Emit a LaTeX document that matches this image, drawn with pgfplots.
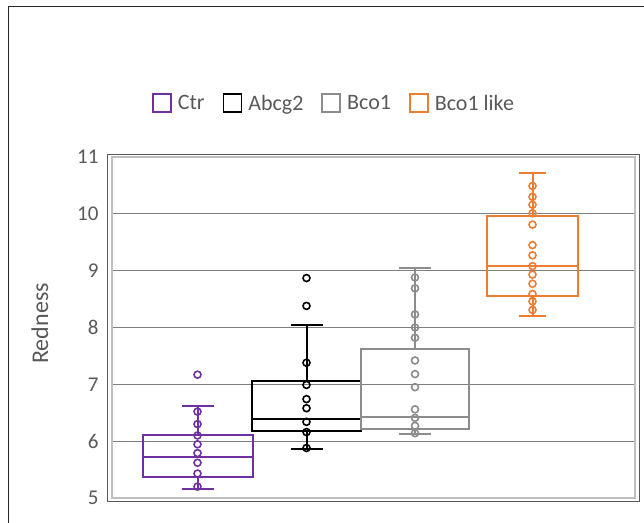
\documentclass[border=0pt]{standalone}
\usepackage{pgfplots}
\pgfplotsset{compat=1.18}
\usepgfplotslibrary{statistics}
\usepackage{fontspec}
\setmainfont{Carlito}
\definecolor{ctrcol}{HTML}{7030A0}
\definecolor{abccol}{HTML}{000000}
\definecolor{bcocol}{HTML}{8C8C8C}
\definecolor{likecol}{HTML}{ED7D31}
\definecolor{txtcol}{HTML}{595959}
\definecolor{gridcol}{HTML}{7F7F7F}

\begin{document}
\begin{tikzpicture}
\useasboundingbox (0,0) rectangle (644bp,523bp);
% outer chart border (left and top only are in view)
\draw[black!85, line width=0.9bp] (8bp,0) -- (8bp,517bp) -- (644bp,517bp);

\begin{axis}[
    name=ax,
    at={(112bp,25bp)}, anchor=south west,
    scale only axis,
    width=523bp, height=341bp,
    xmin=0, xmax=5.23,
    ymin=5, ymax=11,
    xtick=\empty,
    ytick={5,6,...,11},
    ymajorgrids=true,
    grid style={gridcol, line width=0.9bp},
    major tick length=0pt,
    axis line style={black!25, line width=1.7bp},
    boxplot/draw direction=y,
    boxplot/every box/.style={line width=2bp},
    boxplot/every whisker/.style={line width=2bp},
    boxplot/every median/.style={line width=2bp},
    /pgf/number format/assume math mode=true,
    yticklabel style={font=\fontsize{21bp}{25bp}\selectfont, text=txtcol, xshift=-10bp},
    ylabel={Redness},
    every axis y label/.style={at={(axis description cs:-0.1377,0.512)}, rotate=90, anchor=center,
        font=\fontsize{24bp}{28bp}\selectfont, text=txtcol},
    legend columns=4,
    legend image code/.code={\draw[line width=1.8bp,#1] (0bp,-9bp) rectangle (18bp,9bp);},
    legend style={draw=none, fill=none, at={(axis description cs:0.4245,1.158)}, anchor=center,
        font=\fontsize{22bp}{26bp}\selectfont, text=txtcol,
        /tikz/every odd column/.append style={column sep=4bp},
        /tikz/every even column/.append style={column sep=16bp}},
]
\addlegendimage{draw=ctrcol}\addlegendentry{Ctr}
\addlegendimage{draw=abccol}\addlegendentry{Abcg2}
\addlegendimage{draw=bcocol}\addlegendentry{Bco1}
\addlegendimage{draw=likecol}\addlegendentry{Bco1 like}

% Ctr
\addplot[forget plot, ctrcol, line width=2bp, solid, boxplot prepared={
    lower whisker=5.16, lower quartile=5.375, median=5.72,
    upper quartile=6.10, upper whisker=6.625,
    draw position=0.855, box extend=1.10, whisker extend=0.32}] coordinates {};
\addplot[forget plot, only marks, mark=o, mark size=3.5bp, ctrcol, line width=1.6bp]
    coordinates {(0.855,7.17) (0.855,6.52) (0.855,6.30) (0.855,6.10) (0.855,5.945)
                 (0.855,5.79) (0.855,5.62) (0.855,5.43) (0.855,5.20)};

% Abcg2
\addplot[forget plot, abccol, line width=2bp, solid, boxplot prepared={
    lower whisker=5.87, lower quartile=6.185, median=6.385,
    upper quartile=7.05, upper whisker=8.05,
    draw position=1.945, box extend=1.083, whisker extend=0.32}] coordinates {};
\addplot[forget plot, only marks, mark=o, mark size=3.5bp, abccol, line width=1.6bp]
    coordinates {(1.945,8.87) (1.945,8.38) (1.945,7.38) (1.945,6.99) (1.945,6.74)
                 (1.945,6.58) (1.945,6.34) (1.945,6.16) (1.945,5.88)};

% Bco1
\addplot[forget plot, bcocol, line width=2bp, solid, boxplot prepared={
    lower whisker=6.13, lower quartile=6.21, median=6.43,
    upper quartile=7.62, upper whisker=9.04,
    draw position=3.03, box extend=1.086, whisker extend=0.32}] coordinates {};
\addplot[forget plot, only marks, mark=o, mark size=3.5bp, bcocol, line width=1.6bp]
    coordinates {(3.03,8.88) (3.03,8.69) (3.03,8.23) (3.03,8.00) (3.03,7.82) (3.03,7.42)
                 (3.03,7.18) (3.03,6.95) (3.03,6.56) (3.03,6.41) (3.03,6.27) (3.03,6.14)};

% Bco1 like
\addplot[forget plot, likecol, line width=2bp, solid, boxplot prepared={
    lower whisker=8.20, lower quartile=8.56, median=9.08,
    upper quartile=9.965, upper whisker=10.72,
    draw position=4.205, box extend=0.91, whisker extend=0.27}] coordinates {};
\addplot[forget plot, only marks, mark=o, mark size=3.5bp, likecol, line width=1.6bp]
    coordinates {(4.205,10.49) (4.205,10.30) (4.205,10.16) (4.205,10.01) (4.205,9.81)
                 (4.205,9.45) (4.205,9.27) (4.205,9.08) (4.205,8.93) (4.205,8.77)
                 (4.205,8.59) (4.205,8.46) (4.205,8.31)};
\end{axis}

% outer plot-area frame
\draw[black!65, line width=0.9bp] ([shift={(-5bp,-3bp)}]ax.south west) rectangle ([shift={(4bp,3bp)}]ax.north east);
\end{tikzpicture}
\end{document}
